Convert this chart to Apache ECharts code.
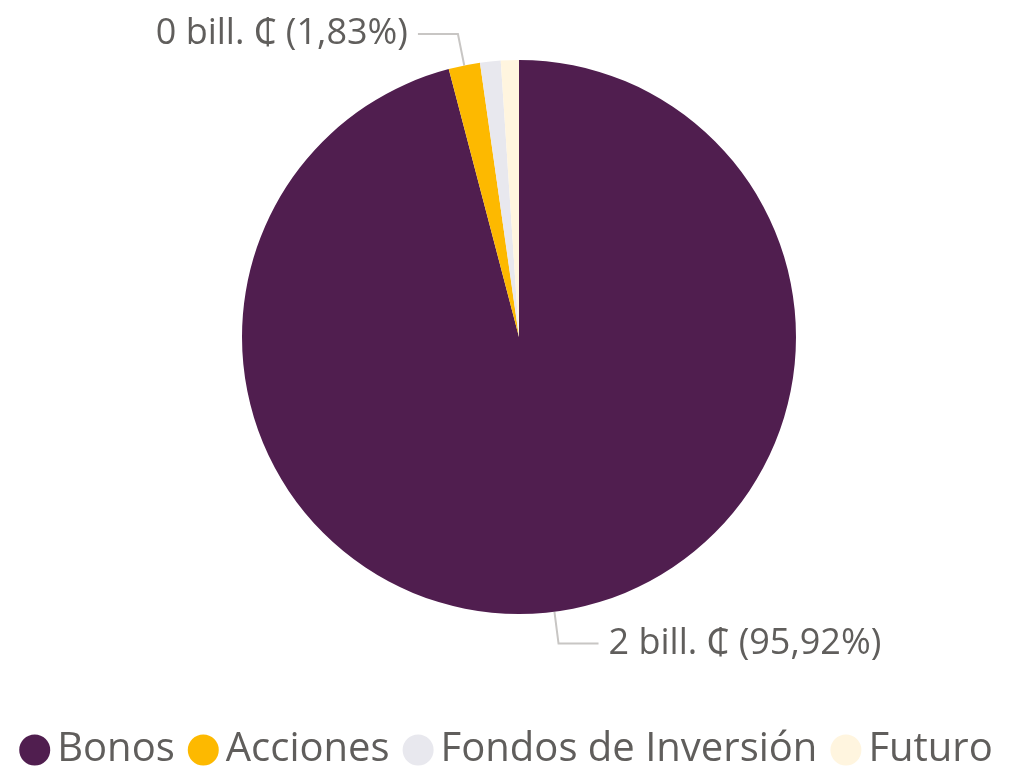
<!DOCTYPE html>
<html>
<head>
<meta charset="utf-8">
<script src="https://cdn.jsdelivr.net/npm/echarts@6/dist/echarts.min.js"></script>
<style>
  html, body { margin: 0; padding: 0; background: #fff; }
  #chart { width: 1012px; height: 770px; }
</style>
</head>
<body>
<div id="chart"></div>
<script>
// categorias y valores (billones de colones)
const categories = ['Bonos', 'Acciones', 'Fondos de Inversión', 'Futuro']
const values = [2.11, 0.0403, 0.0264, 0.0231]
const colors = ['#501E4F', '#FDB900', '#E8E8EE', '#FFF5DF']
const labeled = ['Bonos', 'Acciones']

const chart = echarts.init(document.getElementById('chart'))

const fontFamily = '"Segoe UI", "Open Sans", "Noto Sans", sans-serif'

chart.setOption({
  animation: false,
  color: colors,
  legend: {
    bottom: 0,
    left: 'center',
    padding: 0,
    icon: 'circle',
    itemWidth: 31,
    itemHeight: 31,
    itemGap: 13,
    textStyle: {
      color: '#605E5C',
      fontSize: 40,
      fontFamily: fontFamily,
      padding: [0, 0, 0, 2]
    },
    data: categories
  },
  series: [{
    type: 'pie',
    center: [519, 337],
    radius: 277,
    startAngle: 90,
    clockwise: true,
    data: categories.map((name, i) => ({
      name: name,
      value: values[i],
      label: { show: labeled.indexOf(name) >= 0 },
      labelLine: { show: labeled.indexOf(name) >= 0 }
    })),
    label: {
      color: '#605E5C',
      fontSize: 36,
      fontFamily: fontFamily,
      distanceToLabelLine: 10,
      formatter: function (p) {
        return Math.round(p.value) + ' bill. \u20B5 (' + p.percent.toFixed(2).replace('.', ',') + '%)'
      }
    },
    labelLine: {
      length: 32,
      length2: 40,
      lineStyle: { color: '#C8C6C4', width: 2 }
    }
  }]
})
</script>
</body>
</html>
